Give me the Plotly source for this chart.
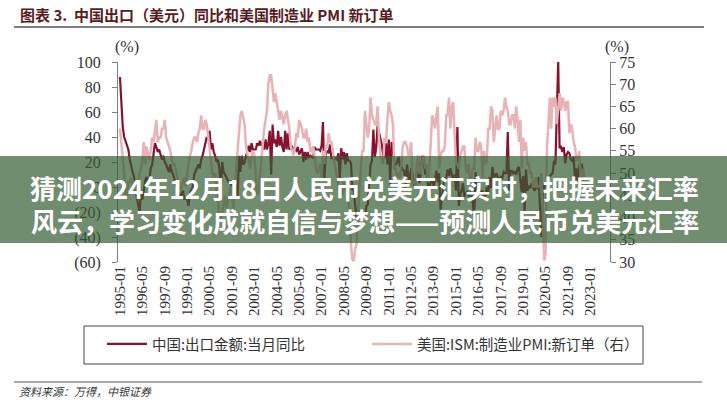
import plotly.graph_objects as go

# ---------------- data (monthly, 1995-01 .. 2022-10) ----------------
china_export_yoy = [
    # 1995
    88, 62, 48, 40, 36, 34, 30, 22, 16, 12, 8, 3,
    # 1996
    -8, -15, -20, -5, -10, -3, 5, 8, 4, 6, 15, 18,
    # 1997
    25, 35, 32, 28, 30, 26, 22, 25, 20, 18, 15, 12,
    # 1998
    18, 12, 10, 5, 2, -2, -5, -8, -5, -3, -10, -8,
    # 1999
    -10, -15, -5, -2, 0, 10, 12, 15, 18, 15, 22, 25,
    # 2000
    30, 35, 40, 38, 45, 30, 35, 28, 25, 20, 22, 15,
    # 2001
    -2, 20, 12, 10, 8, 5, 3, 5, -2, -4, -2, 2,
    # 2002
    -8, 25, 12, 25, 18, 20, 25, 30, 33, 28, 35, 30,
    # 2003
    30, 30, 35, 33, 37, 33, 35, 30, 38, 30, 35, 45,
    # 2004
    10, 50, 35, 38, 32, 45, 33, 40, 32, 28, 45, 30,
    # 2005
    43, 30, 31, 32, 30, 30, 29, 32, 26, 28, 31, 20,
    # 2006
    28, 22, 28, 24, 25, 24, 23, 32, 30, 30, 30, 29,
    # 2007
    33, 52, 7, 27, 29, 27, 34, 23, 23, 22, 23, 22,
    # 2008
    27, 6, 31, 22, 28, 18, 27, 21, 21, 19, -2, -3,
    # 2009
    -17, -26, -17, -23, -26, -21, -23, -23, -15, -14, -1, 18,
    # 2010
    21, 46, 24, 31, 49, 44, 38, 34, 25, 23, 35, 18,
    # 2011
    38, 2, 36, 30, 19, 18, 20, 24, 17, 16, 14, 13,
    # 2012
    -0.5, 18, 9, 5, 15, 11, 1, 3, 10, 12, 3, 14,
    # 2013
    25, 22, 10, 15, 1, -3, 5, 7, -0.3, 6, 13, 4,
    # 2014
    11, -18, -7, 1, 7, 7, 14, 9, 15, 11, 5, 10,
    # 2015
    -3, 48, -15, -6, -3, 3, -8, -5, -4, -7, -7, -1,
    # 2016
    -11, -25, 12, -2, -4, -5, -4, -3, -10, -7, 0, -6,
    # 2017
    8, -1, 16, 8, 9, 11, 7, 6, 8, 7, 12, 11,
    # 2018
    11, 44, -3, 13, 13, 11, 12, 10, 15, 16, 5, -4,
    # 2019
    9, -21, 14, -3, 1, -1, 3, -1, -3, -1, -1, 8,
    # 2020
    -17, -40, -7, 3, -3, 0.5, 7, 9, 10, 11, 21, 18,
    # 2021
    62, 100, 31, 32, 28, 32, 19, 26, 28, 27, 22, 21,
    # 2022
    24, 6, 15, 4, 17, 18, 18, 7, 6, -0.3,
]

ism_new_orders = [
    # 1995
    60, 57, 53, 50, 45, 45, 48, 48, 49, 47, 46, 46,
    # 1996
    47, 47, 50, 51, 53, 57, 52, 56, 54, 53, 55, 58,
    # 1997
    57, 59, 62, 57, 58, 58, 60, 60, 62, 58, 57, 56,
    # 1998
    55, 53, 52, 52, 50, 49, 48, 46, 47, 48, 49, 47,
    # 1999
    50, 52, 54, 55, 57, 58, 58, 57, 59, 60, 63, 60,
    # 2000
    60, 62, 61, 58, 56, 53, 50, 49, 50, 46, 45, 40,
    # 2001
    40, 41, 43, 45, 42, 44, 46, 47, 45, 42, 47, 51,
    # 2002
    55, 58, 63, 64, 62, 61, 56, 54, 52, 51, 54, 55,
    # 2003
    54, 50, 45, 46, 50, 53, 57, 60, 62, 64, 70, 72,
    # 2004
    72, 68, 66, 68, 66, 65, 62, 64, 62, 61, 63, 64,
    # 2005
    62, 60, 56, 55, 54, 56, 59, 58, 62, 61, 60, 58,
    # 2006
    58, 60, 57, 58, 55, 55, 56, 54, 51, 50, 51, 52,
    # 2007
    49, 55, 52, 56, 56, 59, 57, 57, 55, 53, 50, 48,
    # 2008
    47, 46, 46, 45, 48, 46, 47, 47, 40, 34, 30.5, 30.2,
    # 2009
    33, 34, 41, 47, 51, 55, 55, 64, 61, 58, 60, 67,
    # 2010
    63, 62, 61, 61, 65, 58, 54, 53, 52, 58, 57, 62,
    # 2011
    66, 64, 63, 61, 51, 51, 49, 50, 49, 52, 56, 57,
    # 2012
    57, 56, 54, 54, 57, 48, 48, 47, 52, 54, 50, 50,
    # 2013
    53, 54, 51, 52, 48, 51, 58, 63, 62, 60, 63, 65,
    # 2014
    51, 54, 55, 55, 56, 63, 63, 67, 60, 65, 66, 57,
    # 2015
    52, 52, 51, 54, 55, 56, 56, 51, 50, 52, 48, 49,
    # 2016
    51, 51, 58, 55, 55, 57, 56, 49, 55, 52, 53, 60,
    # 2017
    60, 65, 64, 57, 60, 63, 60, 60, 64, 63, 64, 67,
    # 2018
    65, 64, 61, 61, 63, 63, 60, 65, 62, 57, 62, 51,
    # 2019
    58, 55, 57, 52, 52, 50, 50, 47, 47, 49, 47, 47,
    # 2020
    47, 50, 42, 30.3, 32, 56, 61, 67, 60, 67, 65, 67,
    # 2021
    61, 64, 68, 64, 67, 66, 64, 66, 66, 59, 61, 60,
    # 2022
    57, 56, 53, 53, 55, 49, 48, 51, 47, 49,
]

start_year = 1995
tick_labels = ["1995-01", "1996-05", "1997-09", "1999-01", "2000-05", "2001-09",
               "2003-01", "2004-05", "2005-09", "2007-01", "2008-05", "2009-09",
               "2011-01", "2012-05", "2013-09", "2015-01", "2016-05", "2017-09",
               "2019-01", "2020-05", "2021-09", "2023-01"]

left_ticks = [-60, -40, -20, 0, 20, 40, 60, 80, 100]
right_ticks = [30, 35, 40, 45, 50, 55, 60, 65, 70, 75]

series_names = ["中国:出口金额:当月同比", "美国:ISM:制造业PMI:新订单（右）"]
title_text = "图表 3.  中国出口（美元）同比和美国制造业 PMI 新订单"
banner_lines = ["猜测2024年12月18日人民币兑美元汇实时，把握未来汇率",
                "风云，学习变化成就自信与梦想——预测人民币兑美元汇率"]
source_text = "资料来源：万得，中银证券"

# ---------------- helpers ----------------
W, H = 727, 400
L, R, T, B = 118, 117, 62, 138
PW, PH = W - L - R, H - T - B


def px(x):
    return (x - L) / PW


def py(y):
    return (H - B - y) / PH


def month_index(label):
    y, m = label.split("-")
    return (int(y) - start_year) * 12 + int(m) - 1


x_idx = list(range(len(china_export_yoy)))
tick_vals = [month_index(t) for t in tick_labels]

RED = "#861230"
PINK = "#e8b3b7"
AXIS = "#7f7f7f"
SERIF = "Liberation Serif"
CJK = "Noto Sans CJK SC"

fig = go.Figure()
fig.add_trace(go.Scatter(x=x_idx, y=ism_new_orders, name=series_names[1], yaxis="y2",
                         mode="lines", line=dict(color=PINK, width=2.5), legend="legend2"))
fig.add_trace(go.Scatter(x=x_idx, y=china_export_yoy, name=series_names[0], yaxis="y",
                         mode="lines", line=dict(color=RED, width=2.2), legend="legend"))


def neg_fmt(v):
    return f"({abs(v)})" if v < 0 else str(v)


legend_common = dict(orientation="h", yanchor="top", xanchor="left",
                     bgcolor="rgba(0,0,0,0)", borderwidth=0, itemwidth=40,
                     font=dict(family=CJK, size=14.5, color="#333333"))

fig.update_layout(
    width=W, height=H,
    margin=dict(l=L, r=R, t=T, b=B, pad=0),
    paper_bgcolor="white", plot_bgcolor="white",
    font=dict(family=SERIF, color="#333333"),
    xaxis=dict(range=[-1.4, 350], tickvals=tick_vals, ticktext=tick_labels,
               tickangle=-90, showgrid=False, zeroline=False, showline=False,
               ticks="", tickfont=dict(family=SERIF, size=15, color="#333333")),
    yaxis=dict(range=[-60, 100], tickvals=left_ticks,
               ticktext=[neg_fmt(v) for v in left_ticks],
               showgrid=False, zeroline=False, showline=True, linecolor=AXIS,
               linewidth=1, ticks="outside", ticklen=5, tickcolor=AXIS,
               ticklabelstandoff=8,
               tickfont=dict(family=SERIF, size=16, color="#333333")),
    yaxis2=dict(range=[30, 75], tickvals=right_ticks, overlaying="y", side="right",
                showgrid=False, zeroline=False, showline=True, linecolor=AXIS,
                linewidth=1, ticks="outside", ticklen=5, tickcolor=AXIS,
                tickfont=dict(family=SERIF, size=16, color="#333333")),
    showlegend=True,
    legend=dict(x=px(102), y=py(328), **legend_common),
    legend2=dict(x=px(367), y=py(328), **legend_common),
)

shapes = [
    # title underline
    dict(type="line", xref="paper", yref="paper", x0=px(14), x1=px(704), y0=py(27), y1=py(27),
         line=dict(color="#555555", width=1.5)),
    # legend box
    dict(type="rect", xref="paper", yref="paper", x0=px(84), x1=px(643), y0=py(364), y1=py(326),
         line=dict(color="#444444", width=1), fillcolor="rgba(0,0,0,0)"),
    # footer line
    dict(type="line", xref="paper", yref="paper", x0=px(14), x1=px(702), y0=py(382), y1=py(382),
         line=dict(color="#555555", width=1.2)),
    # banner
    dict(type="rect", xref="paper", yref="paper", x0=px(-5), x1=px(735), y0=py(243), y1=py(156),
         line=dict(width=0), fillcolor="rgb(52,92,50)", opacity=0.7, layer="above"),
]

annotations = [
    dict(text=title_text, xref="paper", yref="paper", x=px(18), y=py(14), xanchor="left",
         yanchor="middle", showarrow=False,
         font=dict(family=CJK, size=15, color="#5a1a22", weight="bold")),
    dict(text="(%)", xref="paper", yref="paper", x=px(127), y=py(47), showarrow=False,
         xanchor="center", yanchor="middle", font=dict(family=SERIF, size=16, color="#333333")),
    dict(text="(%)", xref="paper", yref="paper", x=px(617), y=py(47), showarrow=False,
         xanchor="center", yanchor="middle", font=dict(family=SERIF, size=16, color="#333333")),
    dict(text=source_text, xref="paper", yref="paper", x=px(17), y=py(391), showarrow=False,
         xanchor="left", yanchor="middle",
         font=dict(family=CJK, size=11, color="#333333", style="italic")),
    dict(text=banner_lines[0], xref="paper", yref="paper", x=px(364), y=py(187), showarrow=False,
         xanchor="center", yanchor="middle",
         font=dict(family=CJK, size=26, color="white", weight="bold")),
    dict(text=banner_lines[1], xref="paper", yref="paper", x=px(365), y=py(220), showarrow=False,
         xanchor="center", yanchor="middle",
         font=dict(family=CJK, size=26, color="white", weight="bold")),
]

fig.update_layout(shapes=shapes, annotations=annotations)
fig.write_html("out.html", config={"displayModeBar": False},
               post_script="document.body.style.margin='0';document.body.style.padding='0';")
